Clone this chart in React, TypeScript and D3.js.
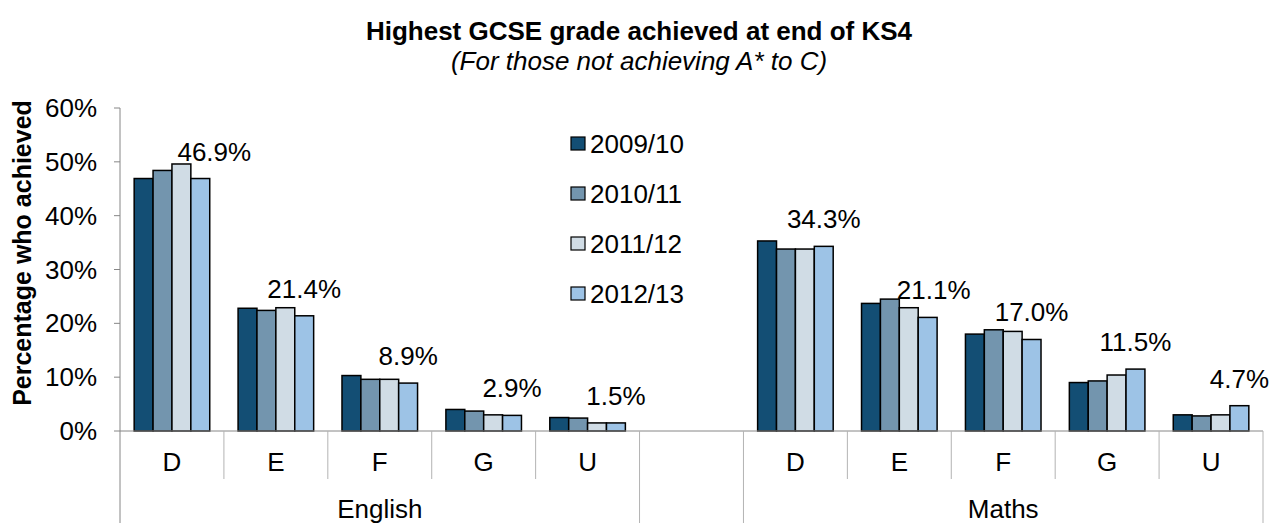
import React from 'react';
import * as d3 from 'd3';

// chart values
const subjects = ['English', 'Maths'];
const grades = ['D', 'E', 'F', 'G', 'U'];
const years = ['2009/10', '2010/11', '2011/12', '2012/13'];

const english = {
  '2009/10': [46.9, 22.8, 10.3, 4.0, 2.5],
  '2010/11': [48.4, 22.4, 9.6, 3.7, 2.4],
  '2011/12': [49.6, 22.9, 9.6, 3.0, 1.5],
  '2012/13': [46.9, 21.4, 8.9, 2.9, 1.5],
};
const maths = {
  '2009/10': [35.3, 23.7, 18.0, 9.0, 3.0],
  '2010/11': [33.8, 24.5, 18.8, 9.3, 2.8],
  '2011/12': [33.8, 22.9, 18.5, 10.4, 3.0],
  '2012/13': [34.3, 21.1, 17.0, 11.5, 4.7],
};
const yTicks = [0, 10, 20, 30, 40, 50, 60];
const labelledYear = '2012/13';

const colors = ['#134E74', '#7395AE', '#D0DCE5', '#9DC3E6'];
// a couple of the data labels were dragged sideways in the original
const labelNudge: Record<string, number> = { 'English-D': 14, 'Maths-E': 6 };

const W = 1273;
const H = 523;
const margin = { left: 120, right: 10, top: 108, bottom: 92 };
const font = '"Liberation Sans", Arial, sans-serif';
const fs = 26;

export default function App() {
  const plotBottom = H - margin.bottom;
  const slots = [
    ...grades.map(g => `English-${g}`),
    'gap',
    ...grades.map(g => `Maths-${g}`),
  ];
  const x = d3.scaleBand().domain(slots).range([margin.left, W - margin.right]);
  const bw = x.bandwidth();
  const gapW = (bw - (bw * 4) / 5.5) / 2;
  const inner = d3.scaleBand().domain(years).range([gapW, bw - gapW]);
  const y = d3.scaleLinear().domain([0, 60]).range([plotBottom, margin.top]);

  const rows: { key: string; year: string; v: number; i: number }[] = [];
  [english, maths].forEach((tbl, si) => {
    years.forEach((yr, i) => {
      (tbl as any)[yr].forEach((v: number, gi: number) => {
        rows.push({ key: `${subjects[si]}-${grades[gi]}`, year: yr, v, i });
      });
    });
  });

  const groupEdges = [
    { name: subjects[0], from: slots[0], to: slots[4] },
    { name: '', from: 'gap', to: 'gap' },
    { name: subjects[1], from: slots[6], to: slots[10] },
  ];

  const axisColor = '#868686';
  const tickColor = '#b3b3b3';

  return (
    <svg width={W} height={H} style={{ position: 'absolute', left: 0, top: 0, background: '#fff' }} fontFamily={font}>
      {/* title */}
      <text x={639} y={40} textAnchor="middle" fontSize={fs} fontWeight="bold">
        Highest GCSE grade achieved at end of KS4
      </text>
      <text x={639} y={70} textAnchor="middle" fontSize={fs} fontStyle="italic">
        (For those not achieving A* to C)
      </text>

      {/* y axis */}
      <line x1={margin.left} x2={margin.left} y1={margin.top} y2={H} stroke={axisColor} />
      {yTicks.map(t => (
        <g key={t}>
          <line x1={margin.left - 6} x2={margin.left} y1={y(t)} y2={y(t)} stroke={axisColor} />
          <text x={97} y={y(t)} dy="0.35em" textAnchor="end" fontSize={fs}>
            {t}%
          </text>
        </g>
      ))}
      <text
        transform={`translate(31,253) rotate(-90)`}
        textAnchor="middle"
        fontSize={25}
        fontWeight="bold"
      >
        Percentage who achieved
      </text>

      {/* bars */}
      {rows.map(r => {
        const x0 = (x(r.key) ?? 0) + (inner(r.year) ?? 0);
        return (
          <rect
            key={r.key + r.year}
            x={x0}
            y={y(r.v)}
            width={inner.bandwidth()}
            height={plotBottom - y(r.v)}
            fill={colors[r.i]}
            stroke="#000"
            strokeWidth={1.5}
          />
        );
      })}
      {rows
        .filter(r => r.year === labelledYear)
        .map(r => (
          <text
            key={'l' + r.key}
            x={(x(r.key) ?? 0) + (inner(r.year) ?? 0) + inner.bandwidth() / 2 + (labelNudge[r.key] ?? 0)}
            y={y(r.v) - 18}
            textAnchor="middle"
            fontSize={fs}
          >
            {r.v.toFixed(1)}%
          </text>
        ))}

      {/* category axis */}
      <line x1={margin.left} x2={W - margin.right} y1={plotBottom} y2={plotBottom} stroke={axisColor} />
      {slots.map((s, i) =>
        i === 0 ? null : (
          <line key={s} x1={x(s)} x2={x(s)} y1={plotBottom} y2={s === 'gap' || slots[i - 1] === 'gap' ? H : plotBottom + 48} stroke={tickColor} />
        )
      )}
      <line x1={W - margin.right} x2={W - margin.right} y1={plotBottom} y2={H} stroke={tickColor} />
      {slots
        .filter(s => s !== 'gap')
        .map(s => (
          <text key={'t' + s} x={(x(s) ?? 0) + bw / 2} y={plotBottom + 40} textAnchor="middle" fontSize={fs}>
            {s.split('-')[1]}
          </text>
        ))}
      {groupEdges.map(g => (
        <text
          key={'g' + g.from}
          x={((x(g.from) ?? 0) + (x(g.to) ?? 0) + bw) / 2}
          y={H - 5}
          textAnchor="middle"
          fontSize={fs}
        >
          {g.name}
        </text>
      ))}

      {/* legend */}
      {years.map((yr, i) => (
        <g key={'lg' + yr} transform={`translate(571,${137 + i * 50})`}>
          <rect x={0} y={0} width={14} height={13} fill={colors[i]} stroke="#000" strokeWidth={1.2} />
          <text x={19} y={6.5} dy="0.35em" fontSize={fs}>
            {yr}
          </text>
        </g>
      ))}
    </svg>
  );
}
